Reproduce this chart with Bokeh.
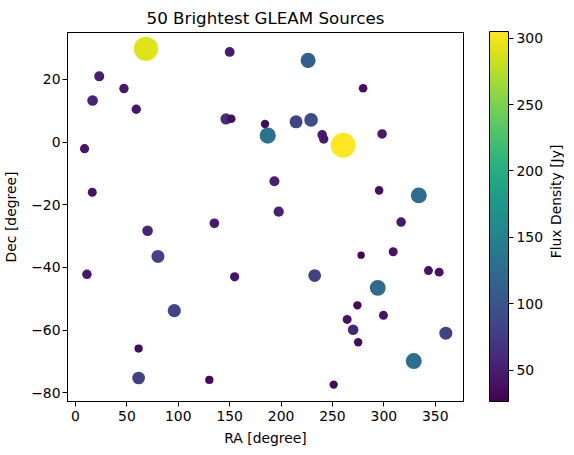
from bokeh.plotting import figure
from bokeh.layouts import row
from bokeh.models import (LinearColorMapper, ColorBar, FixedTicker, Range1d,
                          Label, CustomJSTickFormatter, ColumnDataSource)
from bokeh.palettes import Viridis256
from bokeh.embed import file_html
from bokeh.resources import INLINE
import numpy as np

# RA [deg], Dec [deg], Flux density [Jy]
ra = [68.5, 150.0, 23.1, 47.1, 16.6, 59.1, 146.4, 151.6, 184.4, 187.0,
      8.8, 16.3, 135.1, 226.3, 279.8, 214.6, 229.2, 240.0, 241.5, 260.4,
      298.3, 193.5, 295.4, 334.0, 197.7, 316.8, 70.1, 80.2, 11.1, 154.8,
      96.1, 61.4, 61.4, 130.2, 277.9, 309.1, 232.7, 343.4, 353.8, 294.1,
      274.3, 299.6, 264.3, 270.1, 360.3, 275.0, 329.1, 251.2]
dec = [29.8, 28.8, 21.0, 17.1, 13.3, 10.5, 7.4, 7.5, 5.8, 2.1,
       -2.1, -16.0, -25.9, 26.1, 17.2, 6.5, 7.1, 2.3, 1.0, -1.0,
       2.6, -12.5, -15.4, -17.0, -22.2, -25.5, -28.3, -36.5, -42.2, -43.0,
       -53.8, -65.9, -75.3, -75.9, -36.1, -35.0, -42.6, -41.0, -41.5, -46.5,
       -52.1, -55.3, -56.6, -59.9, -61.0, -63.9, -69.9, -77.4]
flux = [291, 48, 50, 44, 56, 44, 62, 36, 35, 130,
        42, 40, 46, 112, 37, 84, 92, 46, 44, 305,
        45, 50, 37, 126, 52, 45, 56, 84, 45, 42,
        86, 34, 80, 34, 26.5, 40, 80, 40, 40, 124,
        35, 40, 40, 56, 84, 35, 128, 34]

x_ticks = [0, 50, 100, 150, 200, 250, 300, 350]
y_ticks = [-80, -60, -40, -20, 0, 20]
cb_ticks = [50, 100, 150, 200, 250, 300]

FONT = "DejaVu Sans"
FW, FH = 396, 369
TOP = 24

mapper = LinearColorMapper(palette=Viridis256, low=min(flux), high=max(flux))
src = ColumnDataSource(dict(ra=ra, dec=dec, flux=flux,
                            size=[1.42 * np.sqrt(f) for f in flux]))

p = figure(frame_width=FW, frame_height=FH,
           x_range=Range1d(-7.8, 377.5), y_range=Range1d(-82.8, 35.0),
           output_backend="svg", toolbar_location=None,
           title="50 Brightest GLEAM Sources",
           min_border_left=65, min_border_top=TOP, min_border_bottom=44,
           min_border_right=80)

p.scatter("ra", "dec", size="size", source=src,
          fill_color={"field": "flux", "transform": mapper},
          line_color=None, fill_alpha=1.0)

p.title.align = "center"
p.title.text_font = FONT
p.title.text_font_size = "16.7px"
p.title.text_font_style = "normal"
p.title.text_color = "black"

p.xgrid.visible = False
p.ygrid.visible = False
p.outline_line_color = "black"
p.outline_line_width = 1
p.background_fill_color = "white"
p.border_fill_color = "white"

minus_fmt = "return String(tick).replace('-', '\\u2212')"
for ax, ticks, lab in ((p.xaxis[0], x_ticks, "RA [degree]"),
                       (p.yaxis[0], y_ticks, "Dec [degree]")):
    ax.ticker = FixedTicker(ticks=ticks)
    ax.formatter = CustomJSTickFormatter(code=minus_fmt)
    ax.axis_label = lab
    ax.axis_label_text_font = FONT
    ax.axis_label_text_font_size = "13.9px"
    ax.axis_label_text_font_style = "normal"
    ax.axis_label_text_color = "black"
    ax.major_label_text_font = FONT
    ax.major_label_text_font_size = "13.9px"
    ax.major_label_text_color = "black"
    ax.major_tick_in = 0
    ax.major_tick_out = 5
    ax.minor_tick_line_color = None
    ax.axis_line_color = "black"
    ax.major_tick_line_color = "black"
    ax.major_label_standoff = 2

p.xaxis[0].major_label_standoff = 4
p.xaxis[0].axis_label_standoff = 6
p.yaxis[0].axis_label_standoff = 9

cb = ColorBar(color_mapper=mapper, ticker=FixedTicker(ticks=cb_ticks),
              width=19, height=FH + 1, padding=0, margin=0, location=(26, 0),
              major_tick_in=0, major_tick_out=5, major_tick_line_color="black",
              minor_tick_line_color=None, bar_line_color="black",
              major_label_text_font=FONT, major_label_text_font_size="13.9px",
              major_label_text_color="black", label_standoff=3,
              background_fill_color=None)
p.add_layout(cb, "right")

# narrow companion canvas carrying the colour-bar label, read bottom-to-top
LW = 18
p2 = figure(width=LW, height=2 * TOP + FH, output_backend="svg",
            toolbar_location=None, x_range=Range1d(0, LW),
            y_range=Range1d(0, 2 * TOP + FH),
            x_axis_location=None, y_axis_location=None, min_border=0)
p2.xgrid.visible = False
p2.ygrid.visible = False
p2.outline_line_color = None
p2.background_fill_color = "white"
p2.border_fill_color = "white"
p2.add_layout(Label(x=9.5, y=(2 * TOP + FH) / 2, text="Flux Density [Jy]",
                    angle=np.pi / 2, text_align="center",
                    text_baseline="middle", text_font=FONT,
                    text_font_size="13.9px", text_color="black"))

layout = row(p, p2, spacing=0)
open("out.html", "w").write(file_html(layout, INLINE))
